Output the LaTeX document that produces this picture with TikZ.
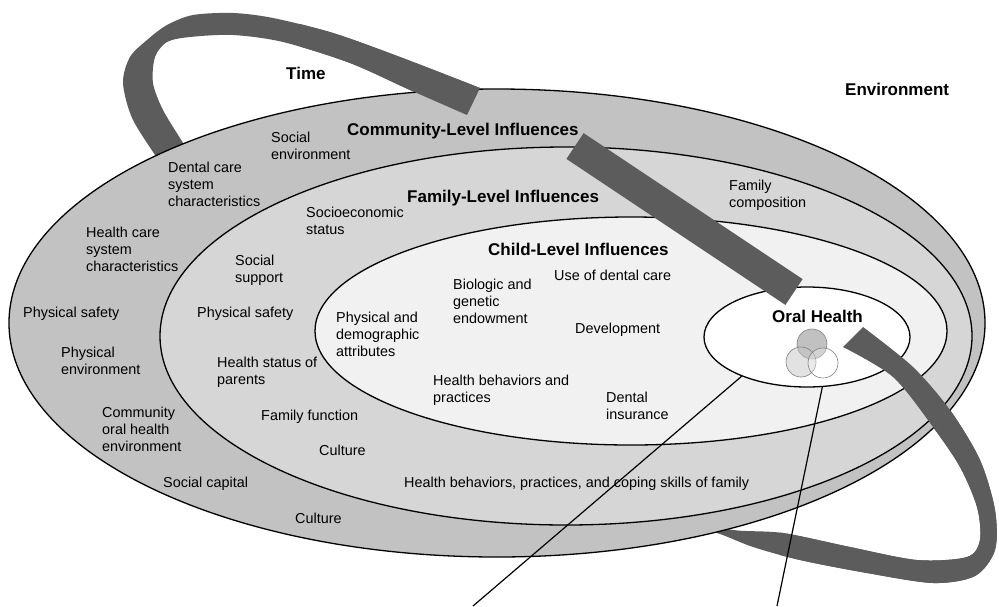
\documentclass[tikz,border=0pt]{standalone}
\usepackage{fontspec}
\setmainfont{Liberation Sans}
\usetikzlibrary{shapes.geometric}

\definecolor{CommunityColor}{gray}{0.76}
\definecolor{FamilyColor}{gray}{0.84}
\definecolor{ChildColor}{gray}{0.945}
\definecolor{RibbonColor}{gray}{0.36}

\tikzstyle{level}=[ellipse,
                   draw=black,
                   line width=1.3pt,
                   inner sep=0pt]
\tikzstyle{community}=[level, fill={CommunityColor}, minimum width=976pt, minimum height=468pt]
\tikzstyle{family}=[level, fill={FamilyColor}, minimum width=812pt, minimum height=378pt]
\tikzstyle{child}=[level, fill={ChildColor}, minimum width=632pt, minimum height=228pt]
\tikzstyle{outcome}=[level, fill=white, minimum width=206pt, minimum height=100pt]
\tikzstyle{factor}=[anchor=north west, align=left, inner sep=0pt, font=\fontsize{14.4}{17}\selectfont]
\tikzstyle{heading}=[anchor=north west, inner sep=0pt, font=\fontsize{17}{20}\selectfont\bfseries]
\tikzstyle{ribbon}=[fill={RibbonColor}]
\tikzstyle{venn}=[circle, minimum size=30pt, inner sep=0pt, draw=gray, line width=0.6pt]
\tikzstyle{link}=[line width=1.2pt]

% the time ribbon, upper loop and lower loop
\newcommand{\toploop}{plot[smooth] coordinates {(162,165) (133,120) (123,83) (130,57) (147,40) (167,25) (193,15) (233,13) (273,18) (333,33) (400,57) (480,88)}
  -- plot[smooth] coordinates {(467,115) (410,90) (350,63) (283,42) (233,35) (190,37) (167,42) (155,57) (153,83) (163,110) (183,143) (190,157)} -- cycle}
\newcommand{\lowloop}{plot[smooth] coordinates {(863,327) (913,367) (950,410) (980,460) (995,510) (995,550) (975,576) (933,583) (867,573) (800,560) (753,547) (717,533) (680,525)}
  -- plot[smooth] coordinates {(690,520) (733,530) (783,533) (850,547) (917,560) (967,557) (980,540) (977,507) (960,467) (933,427) (893,377) (843,347)} -- cycle}

\begin{document}
\begin{tikzpicture}[x=1pt, y=-1pt]
    \useasboundingbox (0,0) rectangle (999,606);

    % ribbon parts behind the rings
    \fill[ribbon] \toploop;
    \fill[ribbon] \lowloop;

    \node at (497, 323) (community) [community] {};
    \node at (566, 336) (family)    [family]    {};
    \node at (631, 331) (child)     [child]     {};
    \node at (807, 337) (oral)      [outcome]   {};

    % ribbon parts in front
    \begin{scope}
      \clip (300,0) rectangle (999,300);
      \fill[ribbon] \toploop;
    \end{scope}
    \begin{scope}
      \clip (780,300) rectangle (999,606);
      \fill[ribbon] \lowloop;
    \end{scope}
    \draw[RibbonColor, line width=31pt] (575,146) -- (794,292);

    \node at (286,  67) (time)      [heading] {Time};
    \node at (845,  83) (env)       [heading] {Environment};
    \node at (347, 123) (comm_head) [heading] {Community-Level Influences};
    \node at (407, 190) (fam_head)  [heading] {Family-Level Influences};
    \node at (488, 243) (child_head)[heading] {Child-Level Influences};
    \node at (772, 310) (oral_head) [heading] {Oral Health};

    % community level
    \node at (271, 132) (soc_env)   [factor] {Social\\environment};
    \node at (168, 162) (dental_sys)[factor] {Dental care\\system\\characteristics};
    \node at ( 86, 227) (health_sys)[factor] {Health care\\system\\characteristics};
    \node at ( 23, 307) (c_safety)  [factor] {Physical safety};
    \node at ( 61, 347) (phys_env)  [factor] {Physical\\environment};
    \node at (102, 407) (comm_oral) [factor] {Community\\oral health\\environment};
    \node at (163, 477) (soc_cap)   [factor] {Social capital};
    \node at (295, 513) (c_culture) [factor] {Culture};

    % family level
    \node at (306, 207) (ses)       [factor] {Socioeconomic\\status};
    \node at (729, 180) (fam_comp)  [factor] {Family\\composition};
    \node at (235, 255) (soc_sup)   [factor] {Social\\support};
    \node at (197, 307) (f_safety)  [factor] {Physical safety};
    \node at (217, 357) (par_status)[factor] {Health status of\\parents};
    \node at (261, 410) (fam_func)  [factor] {Family function};
    \node at (319, 445) (f_culture) [factor] {Culture};
    \node at (404, 477) (fam_behav) [factor] {Health behaviors, practices, and coping skills of family};

    % child level
    \node at (453, 279) (biologic)  [factor] {Biologic and\\genetic\\endowment};
    \node at (554, 270) (use_care)  [factor] {Use of dental care};
    \node at (336, 312) (demog)     [factor] {Physical and\\demographic\\attributes};
    \node at (575, 323) (develop)   [factor] {Development};
    \node at (433, 375) (ch_behav)  [factor] {Health behaviors and\\practices};
    \node at (606, 392) (insurance) [factor] {Dental\\insurance};

    \node at (812, 344) (venn_a) [venn, fill=gray!80, fill opacity=0.6] {};
    \node at (801, 362) (venn_b) [venn, fill=gray!45, fill opacity=0.5] {};
    \node at (823, 363) (venn_c) [venn, fill=white, fill opacity=0.3] {};

    \coordinate (foot_a) at (473, 606);
    \coordinate (foot_b) at (777, 606);
    \draw[link] (oral.211) -- (foot_a);
    \draw[link] (oral.287) -- (foot_b);
\end{tikzpicture}
\end{document}
